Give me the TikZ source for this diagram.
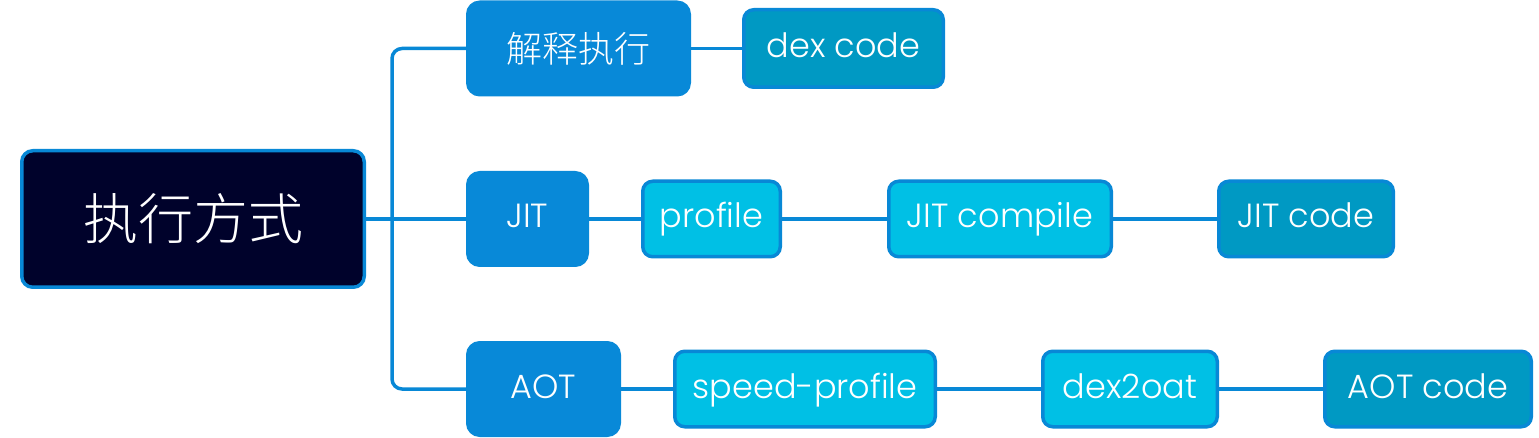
\documentclass[tikz,border=0pt]{standalone}
\usepackage{fontspec}
\setmainfont{Poppins}[UprightFont=* Light]
\newfontfamily\cjk{Noto Sans CJK SC}[UprightFont=* Light]
\definecolor{rootfill}{HTML}{00022B}
\definecolor{edgeblue}{HTML}{0888D6}
\definecolor{lvone}{HTML}{0889D8}
\definecolor{cyanfill}{HTML}{00C0E5}
\definecolor{tealfill}{HTML}{0099C3}
\tikzset{
  base/.style={text=white, inner sep=0pt, line width=3.5pt, draw=edgeblue},
  lat/.style={font=\fontsize{33.5}{40}\selectfont, text height=26pt, text depth=8pt},
  rootbox/.style={base, fill=rootfill, rounded corners=11pt, font=\cjk\fontsize{55}{66}\selectfont},
  lvbox/.style={base, lat, fill=lvone, draw=lvone, rounded corners=12pt},
  cyanbox/.style={base, lat, fill=cyanfill, rounded corners=10pt, minimum height=75.5pt},
  tealbox/.style={base, lat, fill=tealfill, rounded corners=10pt, minimum height=75.5pt},
  link/.style={draw=edgeblue, line width=3.5pt},
}
\begin{document}
\begin{tikzpicture}[x=1pt,y=-1pt]
\useasboundingbox[fill=white] (0,0) rectangle (1539,438);
\node[rootbox, minimum width=342.5pt, minimum height=136.5pt] (root) at (193,219) {执行方式};
\node[lvbox, minimum width=221.5pt, minimum height=92.5pt, font=\cjk\fontsize{36}{43}\selectfont, text height=, text depth=] (interp) at (578.5,48.5) {解释执行};
\node[lvbox, minimum width=119.5pt, minimum height=92.5pt] (jit) at (527.5,219) {JIT};
\node[lvbox, minimum width=151.5pt, minimum height=92.5pt] (aot) at (543.5,389) {AOT};
\node[tealbox, minimum width=199.5pt, minimum height=77.5pt] (dexcode) at (843.5,48.5) {dex code};
\node[cyanbox, minimum width=137.5pt] (profile) at (711.5,219) {profile};
\node[cyanbox, minimum width=222.5pt] (jitcompile) at (1000,219) {JIT compile};
\node[tealbox, minimum width=174.5pt] (jitcode) at (1306,219) {JIT code};
\node[cyanbox, minimum width=260.5pt] (speed) at (805,389) {speed-profile};
\node[cyanbox, minimum width=174.5pt] (dexoat) at (1130,389) {dex2oat};
\node[tealbox, minimum width=206.5pt] (aotcode) at (1428,389) {AOT code};
\coordinate (trunk) at (392,219);
\draw[link] (root.east) -- (jit.west);
\draw[link, rounded corners=10pt] (interp.west) -| (trunk) |- (aot.west);
\draw[link] (interp.east) -- (dexcode.west);
\draw[link] (jit.east) -- (profile.west);
\draw[link] (profile.east) -- (jitcompile.west);
\draw[link] (jitcompile.east) -- (jitcode.west);
\draw[link] (aot.east) -- (speed.west);
\draw[link] (speed.east) -- (dexoat.west);
\draw[link] (dexoat.east) -- (aotcode.west);
\end{tikzpicture}
\end{document}
